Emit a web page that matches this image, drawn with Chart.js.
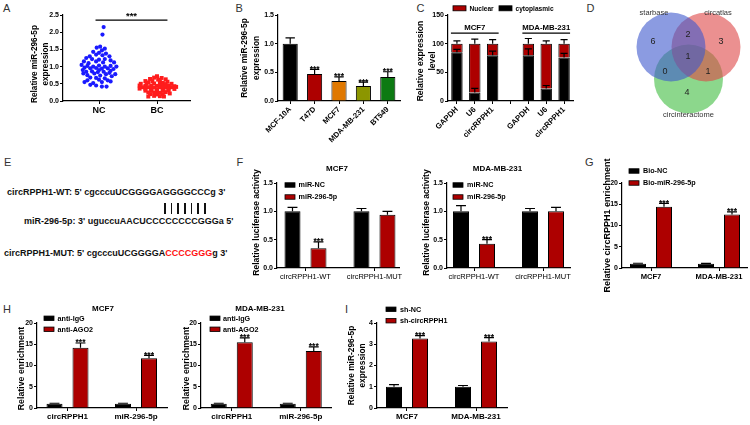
<!DOCTYPE html>
<html><head><meta charset="utf-8">
<script src="https://cdn.jsdelivr.net/npm/chart.js@4.4.1/dist/chart.umd.min.js"></script>
<style>
html,body{margin:0;padding:0;background:#fff;}
body{width:750px;height:425px;overflow:hidden;position:relative;font-family:'Liberation Sans',Arial,sans-serif;}
canvas{position:absolute;}
.lbl{position:absolute;font-size:11px;line-height:1;color:#333;}
.seq{position:absolute;font-weight:bold;font-size:9px;line-height:1;white-space:nowrap;color:#111;}
.mut{color:#ff1010;}
.pairs{position:absolute;left:164px;top:203px;width:43px;height:11px;background:repeating-linear-gradient(90deg,#111 0,#111 1.8px,transparent 1.8px,transparent 6.67px);}
</style></head><body>
<div class="lbl" style="left:3px;top:2.6px">A</div>
<div class="lbl" style="left:235.5px;top:2.6px">B</div>
<div class="lbl" style="left:416.5px;top:2.6px">C</div>
<div class="lbl" style="left:586.5px;top:2.6px">D</div>
<div class="lbl" style="left:4px;top:157px">E</div>
<div class="lbl" style="left:236.5px;top:157px">F</div>
<div class="lbl" style="left:585px;top:157px">G</div>
<div class="lbl" style="left:3px;top:303.6px">H</div>
<div class="lbl" style="left:345px;top:303.6px">I</div>
<div id="seqWT" class="seq" style="left:7px;top:187.6px"></div>
<div class="pairs"></div>
<div id="seqMir" class="seq" style="left:24px;top:216.6px"></div>
<div id="seqMut" class="seq" style="left:4px;top:248.6px"></div>
<script>
// ================= DATA =================
// A: relative miR-296-5p expression in tissues; [swarm offset, value]
const aGroups = ['NC', 'BC'];
const aNC = [
  [0.08,2.15],[0.06,1.93],
  [0.02,1.58],[-0.04,1.55],[0.10,1.52],[0.05,1.47],
  [-0.10,1.43],[0.00,1.40],[0.12,1.38],[-0.05,1.35],[0.06,1.33],[0.18,1.30],[-0.16,1.30],
  [-0.22,1.25],[-0.12,1.22],[0.00,1.20],[0.10,1.22],[0.20,1.18],[-0.26,1.15],[-0.05,1.15],[0.07,1.12],[0.26,1.12],[-0.18,1.10],
  [-0.30,1.05],[-0.20,1.02],[-0.10,1.00],[0.00,1.03],[0.10,1.00],[0.20,1.02],[0.30,1.00],[-0.25,0.97],[-0.15,0.95],[-0.05,0.96],[0.05,0.94],[0.15,0.95],[0.25,0.93],[-0.28,0.90],[0.00,0.90],[0.20,0.88],
  [-0.22,0.85],[-0.12,0.86],[-0.02,0.84],[0.08,0.85],[0.18,0.82],[-0.27,0.80],[-0.08,0.80],[0.12,0.78],[0.28,0.78],[-0.20,0.75],[0.02,0.74],[0.22,0.72],
  [-0.15,0.68],[-0.05,0.67],[0.10,0.66],[-0.20,0.60],[0.00,0.62],[0.15,0.60],[-0.25,0.55],[-0.10,0.52],[0.05,0.55],[0.20,0.57],
  [-0.15,0.47],[-0.05,0.45],[0.05,0.42],[0.13,0.42]
];
const aBC = [
  [0.00,0.72],[-0.05,0.68],[0.08,0.67],[-0.12,0.64],[0.15,0.63],[0.02,0.62],
  [-0.20,0.58],[-0.08,0.58],[0.05,0.57],[0.18,0.56],[-0.15,0.54],[0.10,0.53],
  [-0.28,0.50],[-0.18,0.50],[-0.05,0.51],[0.05,0.49],[0.15,0.49],[0.25,0.50],
  [-0.30,0.45],[-0.20,0.44],[-0.10,0.45],[0.00,0.44],[0.10,0.45],[0.20,0.44],[0.30,0.43],
  [-0.25,0.40],[-0.15,0.40],[-0.05,0.39],[0.05,0.40],[0.15,0.39],[0.25,0.40],[0.33,0.41],
  [-0.30,0.36],[-0.20,0.35],[-0.10,0.35],[0.00,0.34],[0.10,0.35],[0.20,0.36],[0.30,0.35],
  [-0.20,0.30],[-0.10,0.30],[0.00,0.29],[0.10,0.30],[0.20,0.31],
  [-0.15,0.25],[-0.05,0.25],[0.05,0.24],[0.15,0.26],[0.22,0.22],
  [-0.12,0.20],[0.00,0.19],[0.10,0.20],
  [-0.05,0.15],[0.05,0.14],[0.12,0.13],[-0.15,0.13]
];
// B
const bCells = ['MCF-10A','T47D','MCF7','MDA-MB-231','BT549'];
const bExpr  = [1.00,0.47,0.35,0.26,0.42];
const bErr   = [0.10,0.08,0.07,0.07,0.09];
const bSig   = ['','***','***','***','***'];
// C
const cGenes   = ['GAPDH','U6','circRPPH1','','GAPDH','U6','circRPPH1'];
const cCyto    = [85,15,80,null,80,22,76];
const cCytoErr = [5,7,7,null,11,5,7];
const cNuc     = [15,85,20,null,20,78,24];
const cNucErr  = [5,8,7,null,9,5,7];
const cCellLines = ['MCF7','MDA-MB-231'];
// D
const dSets    = ['starbase','circatlas','circinteractome'];
const dRegions = ['starbase','starbase∩circatlas','circatlas','all','starbase∩circinteractome','circatlas∩circinteractome','circinteractome'];
const dCounts  = [6,2,3,1,0,1,4];
// E
const eWT  = "circRPPH1-WT: 5' cgcccuUCGGGGAGGGGCCCg 3'";
const eMir = "miR-296-5p: 3' uguccuAACUCCCCCCCCGGGa 5'";
const eMutPre = "circRPPH1-MUT: 5' cgcccuUCGGGGA", eMutSite = "CCCCGGG", eMutPost = "g 3'";
// F
const fConstructs = ['circRPPH1-WT','circRPPH1-MUT'];
const fSeries = ['miR-NC','miR-296-5p'];
const fMcf7NC = [1.00,1.00], fMcf7NCErr = [0.07,0.05];
const fMcf7Mir = [0.35,0.94], fMcf7MirErr = [0.11,0.06], fMcf7Sig = ['***',''];
const fMdaNC = [1.00,1.00], fMdaNCErr = [0.10,0.05];
const fMdaMir = [0.43,1.00], fMdaMirErr = [0.07,0.07], fMdaSig = ['***',''];
// G
const gCells = ['MCF7','MDA-MB-231'];
const gSeries = ['Bio-NC','Bio-miR-296-5p'];
const gBioNC = [1.0,1.0], gBioNCErr = [0.12,0.1];
const gBioMir = [14.4,12.6], gBioMirErr = [0.8,0.6], gSig = ['***','***'];
// H
const hTargets = ['circRPPH1','miR-296-5p'];
const hSeries = ['anti-IgG','anti-AGO2'];
const hMcf7IgG = [1.0,1.0], hMcf7IgGErr = [0.12,0.12];
const hMcf7AGO2 = [14.2,11.7], hMcf7AGO2Err = [1.1,0.7], hMcf7Sig = ['***','***'];
const hMdaIgG = [1.0,1.0], hMdaIgGErr = [0.12,0.12];
const hMdaAGO2 = [15.5,13.4], hMdaAGO2Err = [1.0,1.0], hMdaSig = ['***','***'];
// I
const iCells = ['MCF7','MDA-MB-231'];
const iSeries = ['sh-NC','sh-circRPPH1'];
const iShNC = [1.0,1.0], iShNCErr = [0.1,0.06];
const iShCirc = [3.27,3.13], iShCircErr = [0.14,0.18], iSig = ['***','***'];

// ================= TEXT PANEL E =================
document.getElementById('seqWT').textContent = eWT;
document.getElementById('seqMir').textContent = eMir;
(function(){const m=document.getElementById('seqMut');m.appendChild(document.createTextNode(eMutPre));const s=document.createElement('span');s.className='mut';s.textContent=eMutSite;m.appendChild(s);m.appendChild(document.createTextNode(eMutPost));})();

// ================= HELPERS =================
const FONT = "'Liberation Sans', Arial, sans-serif";
const RED = '#ad0000';
const fnt = (size, weight) => `${weight || 'normal'} ${size}px ${FONT}`;

const prismPlugin = {
  id: 'prism',
  afterDraw(chart, args, o) {
    const ctx = chart.ctx, ca = chart.chartArea;
    const xs = chart.scales.x, ys = chart.scales.y;
    ctx.save();
    chart.data.datasets.forEach((ds, di) => {
      if (!ds.errorBars && !ds.stars) return;
      const meta = chart.getDatasetMeta(di);
      meta.data.forEach((el, i) => {
        const raw = ds.data[i];
        if (raw == null || (typeof raw === 'object' && raw.y == null)) return;
        let top = el.y;
        const e = ds.errorBars ? ds.errorBars[i] : null;
        if (e) {
          const v = ys.getValueForPixel(el.y);
          const ey = ys.getPixelForValue(v + e);
          const cw = el.width * (o.capRatio || 0.62);
          ctx.strokeStyle = '#000'; ctx.lineWidth = 1.2;
          ctx.beginPath();
          ctx.moveTo(el.x, el.y); ctx.lineTo(el.x, ey);
          ctx.moveTo(el.x - cw / 2, ey); ctx.lineTo(el.x + cw / 2, ey);
          ctx.stroke();
          top = ey;
        }
        const st = ds.stars ? ds.stars[i] : '';
        if (st) {
          ctx.fillStyle = '#000'; ctx.font = o.starFont || fnt(8.5, 'bold');
          ctx.textAlign = 'center'; ctx.textBaseline = 'alphabetic';
          ctx.fillText(st, el.x, top + (o.starDy || 2.5));
        }
      });
    });
    (o.lines || []).forEach(l => {
      ctx.strokeStyle = '#000'; ctx.lineWidth = l.w || 1.3;
      const y = ys.getPixelForValue(l.y);
      ctx.beginPath(); ctx.moveTo(xs.getPixelForValue(l.x1) + (l.px1 || 0), y); ctx.lineTo(xs.getPixelForValue(l.x2) + (l.px2 || 0), y); ctx.stroke();
    });
    (o.texts || []).forEach(t => {
      let x, y;
      if (t.data) { x = xs.getPixelForValue(t.x); y = ys.getPixelForValue(t.y); }
      else { x = ca.left + t.x; y = ca.top + t.y; }
      ctx.fillStyle = t.color || '#000'; ctx.font = t.font;
      ctx.textAlign = t.align || 'center'; ctx.textBaseline = 'middle';
      ctx.fillText(t.text, x, y);
    });
    if (o.legend) {
      const L = o.legend;
      L.order.forEach((di, k) => {
        const ds = chart.data.datasets[di];
        const bx = ca.left + L.x + (L.horizontal ? L.step[k] : 0);
        const cy = ca.top + L.y + (L.horizontal ? 0 : k * L.gap);
        ctx.fillStyle = Array.isArray(ds.backgroundColor) ? ds.backgroundColor[0] : ds.backgroundColor;
        ctx.fillRect(bx, cy - L.bh / 2, L.bw, L.bh);
        ctx.strokeStyle = '#000'; ctx.lineWidth = 0.8;
        ctx.strokeRect(bx, cy - L.bh / 2, L.bw, L.bh);
        ctx.fillStyle = '#000'; ctx.font = L.font; ctx.textAlign = 'left'; ctx.textBaseline = 'middle';
        ctx.fillText(ds.label, bx + L.bw + L.tx, cy + 0.5);
      });
    }
    if (o.ytitle) {
      const T = o.ytitle;
      ctx.fillStyle = '#000'; ctx.font = T.font; ctx.textAlign = 'center'; ctx.textBaseline = 'middle';
      T.lines.forEach((line, k) => {
        ctx.save();
        ctx.translate(ca.left + T.x + k * (T.gap || 0), (ca.top + ca.bottom) / 2 + (T.dy || 0));
        ctx.rotate(-Math.PI / 2);
        ctx.fillText(line, 0, 0);
        ctx.restore();
      });
    }
    ctx.restore();
  }
};

function mount(g) {
  const c = document.createElement('canvas');
  const W = g.x1 - g.x0 + g.yW + g.padRight;
  const H = g.y1 - g.y0 + g.padTop + g.xH;
  c.width = W; c.height = H;
  c.style.left = (g.x0 - g.yW) + 'px'; c.style.top = (g.y0 - g.padTop) + 'px';
  c.style.width = W + 'px'; c.style.height = H + 'px';
  document.body.appendChild(c);
  return c;
}
function yAxis(g, min, max, step, dec, size) {
  return {
    min, max, afterFit: s => { s.width = g.yW; },
    ticks: { stepSize: step, callback: v => Number(v).toFixed(dec), font: { size: size || 7, weight: 'bold', family: FONT }, color: '#000', padding: 1 },
    grid: { display: true, drawOnChartArea: false, tickLength: 3, tickColor: '#000', tickWidth: 1 },
    border: { display: true, color: '#000', width: 1.2 }
  };
}
function xLinear(g, labels, offset, spacing, font) {
  const w = g.x1 - g.x0;
  const min = 1 - offset / spacing, max = min + w / spacing;
  return {
    type: 'linear', min, max, offset: false,
    afterFit: s => { s.height = g.xH; },
    afterBuildTicks: s => { s.ticks = labels.map((_, i) => ({ value: i + 1 })); },
    ticks: { callback: v => labels[Math.round(v) - 1] || '', font, color: '#000', padding: 1, maxRotation: 0, minRotation: 0, autoSkip: false },
    grid: { display: true, drawOnChartArea: false, offset: false, tickLength: 3, tickColor: '#000', tickWidth: 1 },
    border: { display: true, color: '#000', width: 1.2 }
  };
}
function xCategory(g, font, rot) {
  return {
    type: 'category', offset: true, afterFit: s => { s.height = g.xH; },
    ticks: { font, color: '#000', padding: 1, minRotation: rot, maxRotation: rot, autoSkip: false },
    grid: { display: true, drawOnChartArea: false, offset: false, tickLength: 3, tickColor: '#000', tickWidth: 1 },
    border: { display: true, color: '#000', width: 1.2 }
  };
}
function build(g, type, data, scales, prism) {
  const cv = mount(g);
  return new Chart(cv, {
    type, data,
    options: {
      responsive: false, animation: false, devicePixelRatio: 1, events: [],
      layout: { autoPadding: false, padding: { top: g.padTop, right: g.padRight, left: 0, bottom: 0 } },
      scales,
      plugins: { legend: { display: false }, tooltip: { enabled: false }, title: { display: false }, prism }
    },
    plugins: [prismPlugin]
  });
}
const pts = (arr, cat) => arr.map(p => ({ x: cat + p[0], y: p[1] }));
const xy = arr => arr.map((v, i) => ({ x: i + 1, y: v }));
function pairBars(labels, v1, e1, s1, v2, e2, s2, names, spacing) {
  return {
    datasets: [
      { label: names[0], data: xy(v1), errorBars: e1, stars: s1, backgroundColor: '#000', borderColor: '#000', borderWidth: 1, categoryPercentage: 52 / spacing, barPercentage: 16 / 26 },
      { label: names[1], data: xy(v2), errorBars: e2, stars: s2, backgroundColor: RED, borderColor: '#000', borderWidth: 1, categoryPercentage: 52 / spacing, barPercentage: 16 / 26 }
    ]
  };
}

// ================= PANEL A =================
{
  const g = { x0: 63, x1: 190, y0: 15, y1: 101, yW: 40, padTop: 12, padRight: 4, xH: 16 };
  build(g, 'scatter', {
    datasets: [
      { label: aGroups[0], data: pts(aNC, 1), pointRadius: 2.1, pointBackgroundColor: '#1a1aff', pointBorderWidth: 0, pointStyle: 'circle' },
      { label: aGroups[1], data: pts(aBC, 2), pointRadius: 2.8, pointBackgroundColor: '#ff1c1c', pointBorderWidth: 0, pointStyle: 'rect' }
    ]
  }, {
    x: xLinear(g, aGroups, 36, 58, { size: 9, weight: 'bold', family: FONT }),
    y: yAxis(g, 0, 2.5, 0.5, 1, 7)
  }, {
    lines: [{ x1: 0.94, x2: 2.18, y: 2.35, w: 1.4 }],
    texts: [{ data: true, x: 1.56, y: 2.46, text: '***', font: fnt(9.5, 'bold') }],
    ytitle: { lines: ['Relative miR-296-5p', 'expression'], x: -28, gap: 10.5, dy: 6, font: fnt(8.2, 'bold') }
  });
}

// ================= PANEL B =================
{
  const g = { x0: 278, x1: 400, y0: 15, y1: 101, yW: 45, padTop: 12, padRight: 4, xH: 42 };
  build(g, 'bar', {
    labels: bCells,
    datasets: [{ label: 'expression', data: bExpr, errorBars: bErr, stars: bSig,
      backgroundColor: ['#000000', RED, '#e07800', '#8c9600', '#0c7a12'], borderColor: '#000', borderWidth: 1,
      categoryPercentage: 1, barPercentage: 0.62 }]
  }, {
    x: xCategory(g, { size: 7.6, weight: 'bold', family: FONT }, 45),
    y: yAxis(g, 0, 1.5, 0.5, 1, 7)
  }, {
    ytitle: { lines: ['Relative miR-296-5p', 'expression'], x: -33, gap: 11.5, dy: 0, font: fnt(8.4, 'bold') }
  });
}

// ================= PANEL C =================
{
  const g = { x0: 448, x1: 573, y0: 15, y1: 101, yW: 40, padTop: 15, padRight: 4, xH: 42 };
  build(g, 'bar', {
    labels: cGenes,
    datasets: [
      { label: 'cytoplasmic', data: cCyto, errorBars: cCytoErr, backgroundColor: '#000', borderColor: '#000', borderWidth: 1, stack: 's', categoryPercentage: 1, barPercentage: 0.64 },
      { label: 'Nuclear', data: cNuc, errorBars: cNucErr, backgroundColor: RED, borderColor: '#000', borderWidth: 1, stack: 's', categoryPercentage: 1, barPercentage: 0.64 }
    ]
  }, {
    x: Object.assign(xCategory(g, { size: 7.8, weight: 'bold', family: FONT }, 45), { stacked: true }),
    y: Object.assign(yAxis(g, 0, 150, 50, 0, 7), { stacked: true })
  }, {
    lines: [{ x1: 0, x2: 2, y: 118.5, px1: -6, px2: 6 }, { x1: 4, x2: 6, y: 118.5, px1: -6, px2: 6 }],
    texts: [{ data: true, x: 1, y: 128, text: cCellLines[0], font: fnt(7.8, 'bold') },
            { data: true, x: 5, y: 128, text: cCellLines[1], font: fnt(7.8, 'bold') }],
    legend: { order: [1, 0], horizontal: true, step: [0, 46], x: 5, y: -6.7, bw: 13, bh: 5, tx: 3.5, font: fnt(6.6, 'bold') },
    ytitle: { lines: ['Relative expression', 'level'], x: -27, gap: 12, dy: 3, font: fnt(8.6, 'bold') }
  });
}

// ================= PANEL D (Venn via bubbles) =================
{
  const g = { x0: 600, x1: 750, y0: 0, y1: 130, yW: 0, padTop: 0, padRight: 0, xH: 0 };
  const cv = mount(g);
  const centers = [[7.1, 4.7], [10.6, 4.7], [8.85, 7.9]];
  const fills = ['rgba(62,88,205,0.60)', 'rgba(222,70,70,0.60)', 'rgba(70,190,70,0.62)'];
  const namePos = [[5.4, 1.3], [11.8, 1.3], [8.85, 11.5]];
  const countPos = [[5.3, 4.2], [8.8, 3.5], [12.1, 4.2], [8.8, 5.7], [6.5, 7.2], [10.8, 7.2], [8.7, 9.3]];
  new Chart(cv, {
    type: 'bubble',
    data: { datasets: dSets.map((s, i) => ({ label: s, data: [{ x: centers[i][0], y: centers[i][1], r: 34.5 }], backgroundColor: fills[i], borderWidth: 0, clip: false })) },
    options: {
      responsive: false, animation: false, devicePixelRatio: 1, events: [],
      layout: { autoPadding: false, padding: 0 },
      scales: { x: { display: false, min: 0, max: 15 }, y: { display: false, min: 0, max: 13, reverse: true } },
      plugins: { legend: { display: false }, tooltip: { enabled: false },
        prism: { texts: [
          ...dSets.map((s, i) => ({ data: true, x: namePos[i][0], y: namePos[i][1], text: s, font: fnt(7.5), color: '#333' })),
          ...dCounts.map((c, i) => ({ data: true, x: countPos[i][0], y: countPos[i][1], text: String(c), font: fnt(9), color: '#222' }))
        ] } }
    },
    plugins: [prismPlugin]
  });
}

// ================= PANEL F =================
{
  const g = { x0: 277, x1: 400, y0: 183, y1: 268, yW: 30, padTop: 22, padRight: 4, xH: 14 };
  build(g, 'bar', pairBars(fConstructs, fMcf7NC, fMcf7NCErr, ['', ''], fMcf7Mir, fMcf7MirErr, fMcf7Sig, fSeries, 69), {
    x: xLinear(g, fConstructs, 28.5, 69, { size: 7.5, family: FONT }),
    y: yAxis(g, 0, 1.5, 0.5, 1, 7)
  }, {
    texts: [{ x: 60, y: -14, text: 'MCF7', font: fnt(8, 'bold') }],
    legend: { order: [0, 1], x: 8, y: 2, gap: 12, bw: 10, bh: 4.5, tx: 3.5, font: fnt(7.2, 'bold') },
    ytitle: { lines: ['Relative luciferase activity'], x: -20, dy: -3, font: fnt(8.5, 'bold') }
  });
}
{
  const g = { x0: 447, x1: 570, y0: 183, y1: 268, yW: 30, padTop: 22, padRight: 4, xH: 14 };
  build(g, 'bar', pairBars(fConstructs, fMdaNC, fMdaNCErr, ['', ''], fMdaMir, fMdaMirErr, fMdaSig, fSeries, 69), {
    x: xLinear(g, fConstructs, 27, 69, { size: 7.5, family: FONT }),
    y: yAxis(g, 0, 1.5, 0.5, 1, 7)
  }, {
    texts: [{ x: 50.5, y: -14, text: 'MDA-MB-231', font: fnt(8, 'bold') }],
    legend: { order: [0, 1], x: 6, y: 2, gap: 12, bw: 10, bh: 4.5, tx: 4, font: fnt(7.2, 'bold') },
    ytitle: { lines: ['Relative luciferase activity'], x: -20, dy: -3, font: fnt(8.5, 'bold') }
  });
}

// ================= PANEL G =================
{
  const g = { x0: 622, x1: 747, y0: 183, y1: 268, yW: 22, padTop: 30, padRight: 3, xH: 30 };
  build(g, 'bar', pairBars(gCells, gBioNC, gBioNCErr, ['', ''], gBioMir, gBioMirErr, gSig, gSeries, 68), {
    x: xLinear(g, gCells, 29, 68, { size: 7.6, weight: 'bold', family: FONT }),
    y: yAxis(g, 0, 20, 5, 0, 7)
  }, {
    legend: { order: [0, 1], x: 7, y: -12, gap: 12, bw: 10, bh: 4.5, tx: 4, font: fnt(7.2, 'bold') },
    ytitle: { lines: ['Relative circRPPH1 enrichment'], x: -14, dy: 0, font: fnt(9, 'bold') }
  });
}

// ================= PANEL H =================
{
  const g = { x0: 37, x1: 167, y0: 323, y1: 408, yW: 22, padTop: 22, padRight: 4, xH: 16 };
  build(g, 'bar', pairBars(hTargets, hMcf7IgG, hMcf7IgGErr, ['', ''], hMcf7AGO2, hMcf7AGO2Err, hMcf7Sig, hSeries, 68.5), {
    x: xLinear(g, hTargets, 30.5, 68.5, { size: 8, weight: 'bold', family: FONT }),
    y: yAxis(g, 0, 20, 5, 0, 7)
  }, {
    texts: [{ x: 66, y: -14, text: 'MCF7', font: fnt(8, 'bold') }],
    legend: { order: [0, 1], x: 7, y: -4.7, gap: 11, bw: 10, bh: 4.5, tx: 3.5, font: fnt(7.2, 'bold') },
    ytitle: { lines: ['Relative enrichment'], x: -15, dy: 3, font: fnt(8.8, 'bold') }
  });
}
{
  const g = { x0: 201, x1: 331, y0: 323, y1: 408, yW: 22, padTop: 22, padRight: 4, xH: 16 };
  build(g, 'bar', pairBars(hTargets, hMdaIgG, hMdaIgGErr, ['', ''], hMdaAGO2, hMdaAGO2Err, hMdaSig, hSeries, 69), {
    x: xLinear(g, hTargets, 30.75, 69, { size: 8, weight: 'bold', family: FONT }),
    y: yAxis(g, 0, 20, 5, 0, 7)
  }, {
    texts: [{ x: 59, y: -14, text: 'MDA-MB-231', font: fnt(8, 'bold') }],
    legend: { order: [0, 1], x: 9, y: -4.7, gap: 11, bw: 10, bh: 4.5, tx: 3, font: fnt(7.2, 'bold') },
    ytitle: { lines: ['Relative enrichment'], x: -14, dy: 3, font: fnt(8.8, 'bold') }
  });
}

// ================= PANEL I =================
{
  const g = { x0: 377, x1: 507, y0: 323, y1: 408, yW: 32, padTop: 20, padRight: 4, xH: 16 };
  build(g, 'bar', pairBars(iCells, iShNC, iShNCErr, ['', ''], iShCirc, iShCircErr, iSig, iSeries, 69), {
    x: xLinear(g, iCells, 30, 69, { size: 8, weight: 'bold', family: FONT }),
    y: yAxis(g, 0, 4, 1, 0, 7)
  }, {
    legend: { order: [0, 1], x: 9, y: -13.7, gap: 11.4, bw: 10, bh: 4.5, tx: 4, font: fnt(7.2, 'bold') },
    ytitle: { lines: ['Relative miR-296-5p', 'expression'], x: -25, gap: 11, dy: 0, font: fnt(8.4, 'bold') }
  });
}
</script>
</body></html>
